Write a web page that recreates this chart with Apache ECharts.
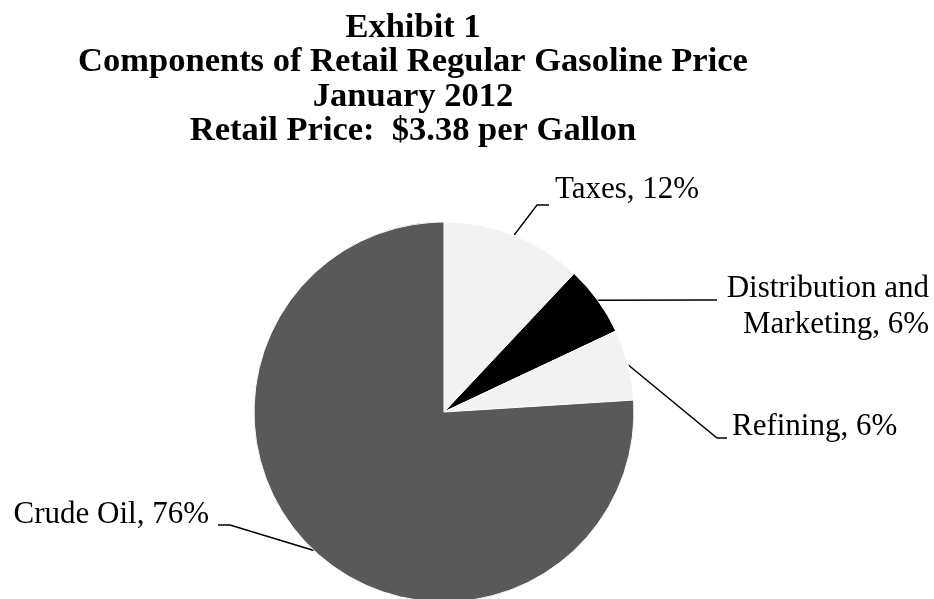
<!DOCTYPE html>
<html>
<head>
<meta charset="utf-8">
<script src="https://cdn.jsdelivr.net/npm/echarts@6/dist/echarts.min.js"></script>
<style>
  html, body { margin: 0; padding: 0; background: #fff; }
  #chart { width: 934px; height: 599px; }
</style>
</head>
<body>
<div id="chart"></div>
<script>
const components = ['Taxes', 'Distribution and Marketing', 'Refining', 'Crude Oil']
const shares = [12, 6, 6, 76]
const sliceColors = ['#f2f2f2', '#000000', '#f2f2f2', '#595959']

// where Excel's labels sat, and the bend of each leader line
const labelSpots = [
  { x: 555, y: 190, align: 'left', bend: [537, 205], end: [549, 205] },
  { x: 929, y: 307, align: 'right', bend: [705, 300], end: [717, 300] },
  { x: 732, y: 427, align: 'left', bend: [717, 438], end: [727, 438] },
  { x: 209, y: 515, align: 'right', bend: [230, 525], end: [218, 525] },
]

const chart = echarts.init(document.getElementById('chart'))

chart.setOption({
  animation: false,
  backgroundColor: '#fff',
  title: {
    text: 'Exhibit 1\nComponents of Retail Regular Gasoline Price\nJanuary 2012\nRetail Price:  $3.38 per Gallon',
    left: 413,
    top: 11,
    textAlign: 'center',
    padding: 0,
    textStyle: {
      fontFamily: '"Liberation Serif", "Times New Roman", serif',
      fontWeight: 'bold',
      fontSize: 34.5,
      lineHeight: 34.3,
      color: '#000',
    },
  },
  series: [
    {
      type: 'pie',
      center: [444, 412],
      radius: 190,
      startAngle: 90,
      clockwise: true,
      silent: true,
      itemStyle: { borderColor: '#fff', borderWidth: 1 },
      label: {
        show: true,
        position: 'outside',
        fontFamily: '"Liberation Serif", "Times New Roman", serif',
        fontSize: 31,
        lineHeight: 36,
        color: '#000',
        formatter: (p) => p.name.replace('and ', 'and\n') + ', ' + p.percent + '%',
      },
      labelLine: {
        show: true,
        length: 30,
        length2: 15,
        lineStyle: { color: '#000', width: 1.5 },
      },
      labelLayout: (params) => {
        const spot = labelSpots[params.dataIndex]
        const start = params.labelLinePoints ? params.labelLinePoints[0] : spot.bend
        return {
          x: spot.x,
          y: spot.y,
          align: spot.align,
          verticalAlign: 'middle',
          labelLinePoints: [start, spot.bend, spot.end],
        }
      },
      data: components.map((name, i) => ({
        name,
        value: shares[i],
        itemStyle: { color: sliceColors[i] },
      })),
    },
  ],
})
</script>
</body>
</html>
